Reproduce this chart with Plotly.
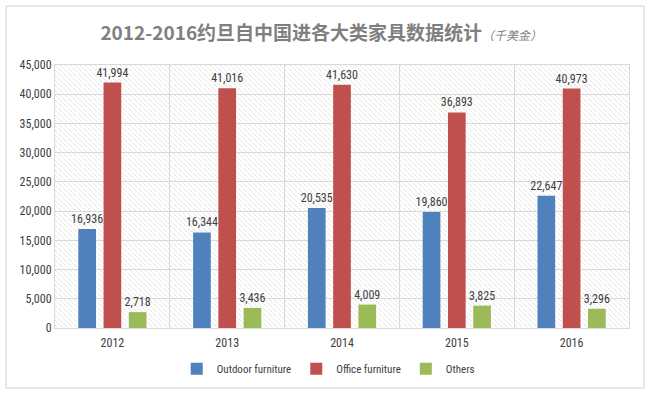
import base64
import plotly.graph_objects as go

years = ["2012", "2013", "2014", "2015", "2016"]
outdoor = [16936, 16344, 20535, 19860, 22647]
office = [41994, 41016, 41630, 36893, 40973]
others = [2718, 3436, 4009, 3825, 3296]
series_names = ["Outdoor furniture", "Office furniture", "Others"]
colors = ["#4f81bd", "#c0504d", "#9bbb59"]

FONT = "Roboto Condensed, Liberation Sans Narrow, sans-serif"
TXT = "#404040"

fig = go.Figure()
for name, vals, c in zip(series_names, [outdoor, office, others], colors):
    fig.add_trace(go.Bar(
        x=years, y=vals, name=name, marker=dict(color=c, line=dict(width=0)),
        text=[f"{v:,}" for v in vals], textposition="outside", constraintext="none",
        textfont=dict(family=FONT, size=12, color=TXT), cliponaxis=False,
    ))

W, H = 574, 263
svg = (f'<svg xmlns="http://www.w3.org/2000/svg" width="{W}" height="{H}" viewBox="0 0 {W} {H}" preserveAspectRatio="none">'
       '<defs><pattern id="p" width="5" height="5" patternUnits="userSpaceOnUse">'
       '<path d="M0,0 L5,5 M-1,4 L1,6 M4,-1 L6,1" stroke="#c8c8c8" stroke-width="0.8" stroke-dasharray="1,1"/>'
       '</pattern></defs>'
       f'<rect width="{W}" height="{H}" fill="white"/><rect width="{W}" height="{H}" fill="url(#p)"/></svg>')
uri = "data:image/svg+xml;base64," + base64.b64encode(svg.encode()).decode()

fig.update_layout(
    width=649, height=394,
    margin=dict(l=55, r=20, t=65, b=66, autoexpand=False),
    paper_bgcolor="white", plot_bgcolor="rgba(0,0,0,0)",
    barmode="group", bargap=0.34, bargroupgap=0.3,
    font=dict(family=FONT, color=TXT, size=12),
    title=dict(
        text="<b>2012-2016约旦自中国进各大类家具数据统计</b><span style='font-size:12px;font-weight:normal'><i>（千美金）</i></span>",
        x=0.495, xanchor="center", y=0.915, yanchor="middle",
        font=dict(family="Noto Sans CJK SC, sans-serif", size=19, color="#7f7f7f"),
    ),
    xaxis=dict(type="category", tickson="boundaries", showgrid=True, gridcolor="#d9d9d9",
               showline=True, linecolor="#d9d9d9", mirror=True, ticks="", ticklabelstandoff=4,
               tickfont=dict(family=FONT, size=12, color=TXT)),
    yaxis=dict(range=[0, 45000], dtick=5000, tickformat=",", showgrid=True, gridcolor="#d9d9d9",
               zeroline=False, showline=True, linecolor="#d9d9d9", mirror=True, ticks="",
               tickfont=dict(family=FONT, size=12, color=TXT)),
    legend=dict(orientation="h", x=0.476, xanchor="center", y=-0.1, yanchor="top",
                font=dict(family=FONT, size=11, color=TXT), itemwidth=30,
                tracegroupgap=0),
    images=[dict(source=uri, xref="x domain", yref="y domain", x=0, y=1, sizex=1, sizey=1,
                 xanchor="left", yanchor="top", sizing="stretch", layer="below")],
    shapes=[dict(type="rect", xref="paper", yref="paper",
                 x0=(6 - 55) / W, x1=(644 - 55) / W, y0=(328 - 388) / H, y1=(328 - 6) / H,
                 line=dict(color="#d0d0d0", width=1), fillcolor="rgba(0,0,0,0)", layer="below")],
)

fig.write_html("out.html", config={"displayModeBar": False},
               post_script="document.body.style.margin='0';")
